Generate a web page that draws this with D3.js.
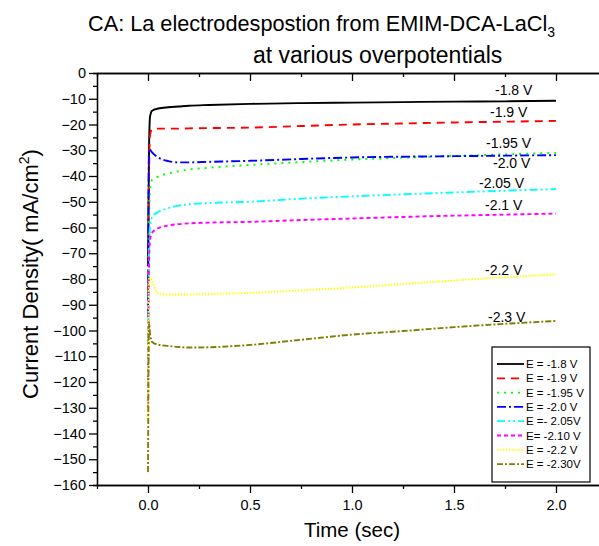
<!DOCTYPE html>
<html>
<head>
<meta charset="utf-8">
<script src="https://cdn.jsdelivr.net/npm/d3@7"></script>
<style>
  body { margin: 0; background: #fff; }
  text { font-family: Arial, "Liberation Sans", sans-serif; }
</style>
</head>
<body>
<div id="chart"></div>
<script>
// time points (sec) shared by all the series
const times = [0, 0.005, 0.01, 0.02, 0.05, 0.1, 0.15, 0.2, 0.3, 0.5, 0.75, 1.0, 1.25, 1.5, 1.75, 2.0];

// current density (mA/cm2)
const cd18  = [-75, -30, -17, -14.7, -13.8, -13.3, -13, -12.7, -12.4, -12.0, -11.7, -11.5, -11.3, -11.1, -11.0, -10.8];
const cd19  = [-85, -40, -24, -21.8, -21.6, -21.6, -21.6, -21.5, -21.4, -21.2, -20.6, -20.0, -19.6, -19.2, -18.9, -18.6];
const cd195 = [-110, -60, -45, -41.5, -40.2, -39, -38.2, -37.5, -36.8, -35.7, -34.6, -33.6, -32.9, -32.2, -31.6, -31.0];
const cd20  = [-95, -29.5, -29.8, -30.8, -32.8, -34.2, -34.7, -34.7, -34.5, -34.1, -33.4, -32.8, -32.5, -32.3, -32.1, -31.9];
const cd205 = [-120, -70, -60, -56, -54, -52.5, -51.5, -51, -50.5, -50, -48.8, -47.9, -47.1, -46.4, -45.7, -45.1];
const cd21  = [-130, -75, -65, -62, -60.3, -59.2, -58.7, -58.4, -58.1, -57.8, -57.1, -56.5, -55.9, -55.4, -55.0, -54.6];
const cd22  = [-135, -80, -79, -81, -85.5, -86, -86, -86, -85.8, -85.4, -84.4, -83.3, -81.9, -80.6, -79.3, -78.2];
const cd23  = [-155, -97, -101, -104.5, -105.5, -106, -106.4, -106.6, -106.5, -105.6, -103.6, -101.6, -100.2, -98.7, -97.4, -96.3];

const legendLabels = ["E = -1.8 V", "E = -1.9 V", "E = -1.95 V", "E = -2.0 V", "E =- 2.05V", "E= -2.10 V", "E = -2.2 V", "E = -2.30V"];
const endLabels = ["-1.8 V", "-1.9 V", "-1.95 V", "-2.0 V", "-2.05 V", "-2.1 V", "-2.2 V", "-2.3 V"];
const endLabelPos = [[495, 95], [490, 117], [486, 148], [493, 168], [479, 188], [485, 210], [485, 275], [488, 322]];

const xTicks = [0, 0.5, 1.0, 1.5, 2.0];
const yTicks = d3.range(0, -161, -10);

const seriesData = [cd18, cd19, cd195, cd20, cd205, cd21, cd22, cd23];
const colors = ["#000000", "#ff0000", "#00ff00", "#0000ff", "#00ffff", "#ff00ff", "#ffff00", "#808000"];
const dashes = [null, "8,6", "2,5", "9,3,2,3", "8,3,2,3,2,3", "4,3", "1.5,1.5", "6,2,2,2"];

const width = 599, height = 546;
const margin = {top: 73, right: -8, bottom: 61, left: 97};

const svg = d3.select("#chart").append("svg")
    .attr("width", width)
    .attr("height", height);

const x = d3.scaleLinear().domain([-0.25, 2.25]).range([margin.left, width - margin.right]);
const y = d3.scaleLinear().domain([-160, 0]).range([height - margin.bottom, margin.top]);

// clip area for the curves
svg.append("clipPath").attr("id", "clip")
    .append("rect")
    .attr("x", margin.left).attr("y", margin.top)
    .attr("width", x.range()[1] - margin.left)
    .attr("height", y.range()[0] - margin.top);

const line = d3.line()
    .x(d => x(d[0]))
    .y(d => y(d[1]))
    .curve(d3.curveMonotoneX);

svg.append("g").attr("clip-path", "url(#clip)")
    .selectAll("path")
    .data(seriesData)
    .join("path")
    .attr("d", vals => line(times.map((t, i) => [t, vals[i]])))
    .attr("fill", "none")
    .attr("stroke", (d, i) => colors[i])
    .attr("stroke-width", 1.9)
    .attr("stroke-dasharray", (d, i) => dashes[i]);

// axes
function styleAxis(g) {
    g.selectAll("path.domain").attr("stroke", "#000").attr("stroke-width", 1.3);
    g.selectAll(".tick line").attr("stroke", "#000").attr("stroke-width", 1.3);
    g.selectAll("text").attr("fill", "#000").style("font-size", "14.5px");
}

const yMinor = d3.range(-5, -160, -10);
const xMinor = [-0.25, 0.25, 0.75, 1.25, 1.75, 2.25];

svg.append("g")
    .attr("transform", `translate(${margin.left},0)`)
    .call(d3.axisLeft(y).tickValues(yTicks).tickSize(8).tickSizeOuter(0).tickPadding(3).tickFormat(d3.format("d")))
    .call(styleAxis);
svg.append("g")
    .attr("transform", `translate(${margin.left},0)`)
    .call(d3.axisLeft(y).tickValues(yMinor).tickSize(4).tickFormat(""))
    .call(styleAxis);

svg.append("g")
    .attr("transform", `translate(0,${y(-160)})`)
    .call(d3.axisBottom(x).tickValues(xTicks).tickSize(8).tickSizeOuter(0).tickPadding(7).tickFormat(d3.format(".1f")))
    .call(styleAxis);
svg.append("g")
    .attr("transform", `translate(0,${y(-160)})`)
    .call(d3.axisBottom(x).tickValues(xMinor).tickSize(4).tickSizeOuter(0).tickFormat(""))
    .call(styleAxis);

// top axis, ticks pointing in
svg.append("g")
    .attr("transform", `translate(0,${y(0)})`)
    .call(d3.axisBottom(x).tickValues(xTicks).tickSize(8).tickSizeOuter(0).tickFormat(""))
    .call(styleAxis);
svg.append("g")
    .attr("transform", `translate(0,${y(0)})`)
    .call(d3.axisBottom(x).tickValues(xMinor).tickSize(4).tickSizeOuter(0).tickFormat(""))
    .call(styleAxis);

// axis titles
svg.append("text")
    .attr("x", x(1.0)).attr("y", 537)
    .attr("text-anchor", "middle")
    .style("font-size", "20.5px")
    .text("Time (sec)");

svg.append("text")
    .attr("transform", "translate(38,274) rotate(-90)")
    .attr("text-anchor", "middle")
    .style("font-size", "22px")
    .text("Current Density( mA/cm")
    .append("tspan").attr("dy", -9).style("font-size", "14px").text("2")
    .select(function() { return this.parentNode; })
    .append("tspan").attr("dy", 9).text(")");

// title
const t1 = svg.append("text")
    .attr("x", 88).attr("y", 31)
    .style("font-size", "21.7px")
    .text("CA: La electrodespostion from EMIM-DCA-LaCl");
t1.append("tspan").attr("dy", 6).style("font-size", "14px").text("3");

svg.append("text")
    .attr("x", 253).attr("y", 63)
    .style("font-size", "23px")
    .text("at various overpotentials");

// labels at the end of each curve
svg.append("g").selectAll("text")
    .data(endLabels)
    .join("text")
    .attr("x", (d, i) => endLabelPos[i][0])
    .attr("y", (d, i) => endLabelPos[i][1])
    .style("font-size", "14px")
    .text(d => d);

// legend
const lg = svg.append("g").attr("transform", "translate(492,347)");
lg.append("rect")
    .attr("width", 98).attr("height", 135)
    .attr("fill", "#fff").attr("stroke", "#000").attr("stroke-width", 1.2);

const rows = lg.selectAll("g.row")
    .data(legendLabels)
    .join("g")
    .attr("class", "row")
    .attr("transform", (d, i) => `translate(0,${17 + i * 14.3})`);

rows.append("line")
    .attr("x1", 5).attr("x2", 32)
    .attr("stroke", (d, i) => colors[i])
    .attr("stroke-width", 1.8)
    .attr("stroke-dasharray", (d, i) => dashes[i]);

rows.append("text")
    .attr("x", 34).attr("y", 4)
    .style("font-size", "11.5px")
    .text(d => d);
</script>
</body>
</html>
